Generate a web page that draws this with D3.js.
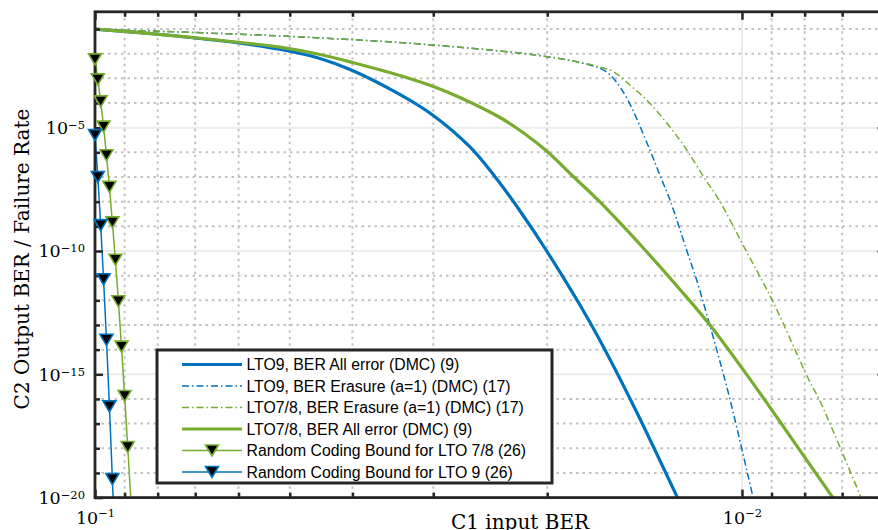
<!DOCTYPE html>
<html><head><meta charset="utf-8">
<script src="https://cdn.jsdelivr.net/npm/d3@7"></script>
<style>body{margin:0;background:#fff}svg{display:block}</style>
</head><body>
<svg id="chart" width="878" height="530"></svg>
<script>
// ---------------- data ----------------
const legendLabels = [
  "LTO9, BER All error (DMC) (9)",
  "LTO9, BER Erasure (a=1) (DMC) (17)",
  "LTO7/8, BER Erasure (a=1) (DMC) (17)",
  "LTO7/8, BER All error (DMC) (9)",
  "Random Coding Bound for LTO 7/8 (26)",
  "Random Coding Bound for LTO 9 (26)"
];
const lto9AllX = [0.1, 0.0822, 0.0688, 0.0576, 0.0518, 0.0449, 0.0400, 0.0338, 0.0300, 0.02633, 0.0242, 0.02203, 0.0200, 0.01718, 0.01490, 0.01255];
const lto9AllY = [1.0e-1, 6.6e-2, 4.14e-2, 2.37e-2, 1.51e-2, 6.4e-3, 2.09e-3, 2.22e-4, 3.13e-5, 1.65e-6, 1.21e-7, 4.19e-9, 9.3e-11, 1.29e-13, 1.05e-16, 8.7e-21];

const lto9EraX = [0.1, 0.0518, 0.0300, 0.0200, 0.01718, 0.01628, 0.01572, 0.01501, 0.01388, 0.01334, 0.01292, 0.01218, 0.01175, 0.01094, 0.01043, 0.00960];
const lto9EraY = [9.8e-2, 5.25e-2, 2.24e-2, 7.6e-3, 3.47e-3, 2.0e-3, 8.5e-4, 1.32e-4, 1.26e-6, 9.1e-8, 1.17e-8, 1.1e-10, 6.6e-12, 9.8e-15, 9.1e-17, 8.7e-21];

const lto78EraX = [0.1, 0.0518, 0.0300, 0.0200, 0.01658, 0.01581, 0.01490, 0.01388, 0.01251, 0.01208, 0.01138, 0.01085, 0.00987, 0.00898, 0.00788, 0.00759, 0.00653];
const lto78EraY = [9.8e-2, 5.25e-2, 2.24e-2, 7.6e-3, 2.9e-3, 1.86e-3, 5.37e-4, 9.8e-5, 3.5e-6, 9.1e-7, 7.6e-8, 1.17e-8, 1.1e-10, 1.02e-12, 5.9e-16, 9.1e-17, 8.7e-21];

const lto78AllX = [0.1, 0.0822, 0.0688, 0.0576, 0.0518, 0.0449, 0.0400, 0.0338, 0.0300, 0.02729, 0.02366, 0.02164, 0.0200, 0.01823, 0.01658, 0.01421, 0.01247, 0.01121, 0.00972, 0.00874, 0.00723];
const lto78AllY = [1.0e-1, 6.49e-2, 4.22e-2, 2.59e-2, 1.84e-2, 9.29e-3, 4.41e-3, 1.31e-3, 4.69e-4, 1.68e-4, 2.59e-5, 5.56e-6, 1.08e-6, 1.05e-7, 9.7e-9, 1.32e-10, 2.75e-12, 1.0e-13, 6.4e-16, 1.22e-17, 9.6e-21];

const rcb78X = [0.100, 0.099, 0.098, 0.097, 0.096, 0.095, 0.094, 0.093, 0.092, 0.091, 0.090, 0.089, 0.088];
const rcb78Y = [5.9e-3, 9.1e-4, 1.17e-4, 1.1e-5, 7.6e-7, 4.0e-8, 1.45e-9, 4.4e-11, 9.1e-13, 1.32e-14, 1.32e-16, 1.12e-18, 7.1e-21];

const rcb9X = [0.100, 0.099, 0.098, 0.097, 0.096, 0.095, 0.094, 0.093];
const rcb9Y = [5.0e-6, 1.0e-7, 1.12e-9, 7.1e-12, 2.5e-14, 5.0e-17, 5.6e-20, 3.5e-23];

const xMajorTicks = [0.1, 0.01];
const xMajorExp = ["\u22121", "\u22122"];
const xMinorTicks = [0.09, 0.08, 0.07, 0.06, 0.05, 0.04, 0.03, 0.02, 0.009, 0.008, 0.007, 0.006];
const yMajorTicks = [1e-5, 1e-10, 1e-15, 1e-20];
const yMajorExp = ["\u22125", "\u221210", "\u221215", "\u221220"];
const yMinorTicks = [1e-1,1e-2,1e-3,1e-4,1e-6,1e-7,1e-8,1e-9,1e-11,1e-12,1e-13,1e-14,1e-16,1e-17,1e-18,1e-19];

// ---------------- layout / style ----------------
const BLUE = "#0072BD", GREEN = "#77AC30", AX = "#262626";
const L = 95, R = 885.5, T = 11.8, B = 497.6;
const svg = d3.select("#chart");
const x = d3.scaleLog().domain([0.1, 0.006]).range([L, R]);
const y = d3.scaleLog().domain([1e-20, 0.5]).range([B, T]);

const series = [
  {xs: lto9AllX, ys: lto9AllY, color: BLUE, w: 3.2, dash: null, marker: false},
  {xs: lto9EraX, ys: lto9EraY, color: BLUE, w: 1.5, dash: "7,3,1.5,3", marker: false},
  {xs: lto78EraX, ys: lto78EraY, color: GREEN, w: 1.5, dash: "7,3,1.5,3", marker: false},
  {xs: lto78AllX, ys: lto78AllY, color: GREEN, w: 3.2, dash: null, marker: false},
  {xs: rcb78X, ys: rcb78Y, color: GREEN, w: 1.5, dash: null, marker: true},
  {xs: rcb9X, ys: rcb9Y, color: BLUE, w: 1.5, dash: null, marker: true}
];

svg.append("defs").append("clipPath").attr("id","plotclip")
  .append("rect").attr("x", L).attr("y", T).attr("width", R - L).attr("height", B - T);

// grid
const grid = svg.append("g");
grid.selectAll(".hmaj").data(yMajorTicks.slice(0,3)).enter().append("line")
  .attr("x1", L).attr("x2", R).attr("y1", d => y(d)).attr("y2", d => y(d))
  .attr("stroke", "#ececec").attr("stroke-width", 2);
grid.selectAll(".vmaj").data(xMajorTicks.slice(1)).enter().append("line")
  .attr("y1", T).attr("y2", B).attr("x1", d => x(d)).attr("x2", d => x(d))
  .attr("stroke", "#ececec").attr("stroke-width", 2);
grid.selectAll(".hmin").data(yMinorTicks).enter().append("line")
  .attr("x1", L).attr("x2", R).attr("y1", d => y(d)).attr("y2", d => y(d))
  .attr("stroke", "#c2c2c2").attr("stroke-width", 2).attr("stroke-dasharray", "2.5,4");
grid.selectAll(".vmin").data(xMinorTicks).enter().append("line")
  .attr("y1", T).attr("y2", B).attr("x1", d => x(d)).attr("x2", d => x(d))
  .attr("stroke", "#c2c2c2").attr("stroke-width", 2).attr("stroke-dasharray", "2.5,4");

// lines
const smooth = d3.line().x(d => x(d[0])).y(d => y(d[1])).curve(d3.curveCatmullRom.alpha(0.5));
const straight = d3.line().x(d => x(d[0])).y(d => y(d[1]));
const plot = svg.append("g").attr("clip-path", "url(#plotclip)");
series.forEach(s => {
  const pts = s.xs.map((v, i) => [v, s.ys[i]]);
  plot.append("path").attr("d", s.marker ? straight(pts) : smooth(pts))
    .attr("fill", "none").attr("stroke", s.color).attr("stroke-width", s.w)
    .attr("stroke-dasharray", s.dash).attr("stroke-linejoin", "round");
});

// axes (ticks inward)
function styleAxis(g) {
  g.select(".domain").remove();
  g.selectAll(".tick line").attr("stroke", AX).attr("stroke-width", 2.5);
}
svg.append("g").attr("transform", `translate(0,${B})`)
  .call(d3.axisBottom(x).tickValues(xMinorTicks).tickSize(-5).tickSizeOuter(0).tickFormat(""))
  .call(styleAxis);
svg.append("g").attr("transform", `translate(0,${T})`)
  .call(d3.axisTop(x).tickValues(xMinorTicks).tickSize(-5).tickSizeOuter(0).tickFormat(""))
  .call(styleAxis);
svg.append("g").attr("transform", `translate(0,${T})`)
  .call(d3.axisTop(x).tickValues(xMajorTicks).tickSize(-8).tickSizeOuter(0).tickFormat(""))
  .call(styleAxis);
svg.append("g").attr("transform", `translate(${L},0)`)
  .call(d3.axisLeft(y).tickValues(yMinorTicks).tickSize(-5).tickSizeOuter(0).tickFormat(""))
  .call(styleAxis);
svg.append("g").attr("transform", `translate(${R},0)`)
  .call(d3.axisRight(y).tickValues(yMinorTicks).tickSize(-5).tickSizeOuter(0).tickFormat(""))
  .call(styleAxis);
svg.append("g").attr("transform", `translate(${R},0)`)
  .call(d3.axisRight(y).tickValues(yMajorTicks).tickSize(-8).tickSizeOuter(0).tickFormat(""))
  .call(styleAxis);

const xb = svg.append("g").attr("transform", `translate(0,${B})`)
  .call(d3.axisBottom(x).tickValues(xMajorTicks).tickSize(-8).tickSizeOuter(0).tickFormat(() => ""))
  .call(styleAxis);
xb.selectAll(".tick text").each(function(d, i) {
  const t = d3.select(this).text(null).attr("y", 26.4).attr("dy", null)
    .attr("fill", "#000").attr("font-family", "DejaVu Serif").attr("font-size", 17.5).attr("text-anchor", "middle");
  t.append("tspan").text("10");
  t.append("tspan").attr("dy", -7).attr("font-size", 11.5).text(xMajorExp[i]);
});
const yl = svg.append("g").attr("transform", `translate(${L},0)`)
  .call(d3.axisLeft(y).tickValues(yMajorTicks).tickSize(-8).tickSizeOuter(0).tickFormat(() => ""))
  .call(styleAxis);
yl.selectAll(".tick text").each(function(d, i) {
  const t = d3.select(this).text(null).attr("x", -10).attr("y", 5.8).attr("dy", null)
    .attr("fill", "#000").attr("font-family", "DejaVu Serif").attr("font-size", 17.5).attr("text-anchor", "end");
  t.append("tspan").text("10");
  t.append("tspan").attr("dy", -5).attr("font-size", 11.5).text(yMajorExp[i]);
});

// box
svg.append("rect").attr("x", L).attr("y", T).attr("width", R - L).attr("height", B - T)
  .attr("fill", "none").attr("stroke", AX).attr("stroke-width", 2.8);

// markers
const tri = "M-6.5,-5.5L6.5,-5.5L0,5.5Z";
series.filter(s => s.marker).forEach(s => {
  const pts = s.xs.map((v, i) => [v, s.ys[i]]).filter(d => d[0] <= 0.1 && d[1] >= 1e-20);
  svg.append("g").selectAll("path").data(pts).enter().append("path")
    .attr("d", tri).attr("transform", d => `translate(${x(d[0])},${y(d[1])})`)
    .attr("fill", "#000").attr("stroke", s.color).attr("stroke-width", 1.6);
});

// axis labels
svg.append("text").attr("x", 520).attr("y", 528.5).attr("text-anchor", "middle")
  .attr("font-family", "DejaVu Serif").attr("font-size", 20).attr("fill", "#000").text("C1 input BER");
svg.append("text").attr("transform", "translate(28.5,259) rotate(-90)").attr("text-anchor", "middle")
  .attr("font-family", "DejaVu Serif").attr("font-size", 20).attr("fill", "#000").text("C2 Output BER / Failure Rate");

// legend
const lg = svg.append("g");
lg.append("rect").attr("x", 157).attr("y", 350).attr("width", 395).attr("height", 133)
  .attr("fill", "#fff").attr("stroke", AX).attr("stroke-width", 3);
series.forEach((s, i) => {
  const yy = 364.5 + i * 21.5;
  lg.append("line").attr("x1", 182).attr("x2", 242).attr("y1", yy).attr("y2", yy)
    .attr("stroke", s.color).attr("stroke-width", s.w).attr("stroke-dasharray", s.dash);
  if (s.marker) lg.append("path").attr("d", tri).attr("transform", `translate(212,${yy})`)
    .attr("fill", "#000").attr("stroke", s.color).attr("stroke-width", 1.6);
  lg.append("text").attr("x", 246.5).attr("y", yy).attr("dy", "0.36em")
    .attr("font-family", "Liberation Sans, Arial, sans-serif").attr("font-size", 15.8).attr("fill", "#000")
    .text(legendLabels[i]);
});
</script>
</body></html>
